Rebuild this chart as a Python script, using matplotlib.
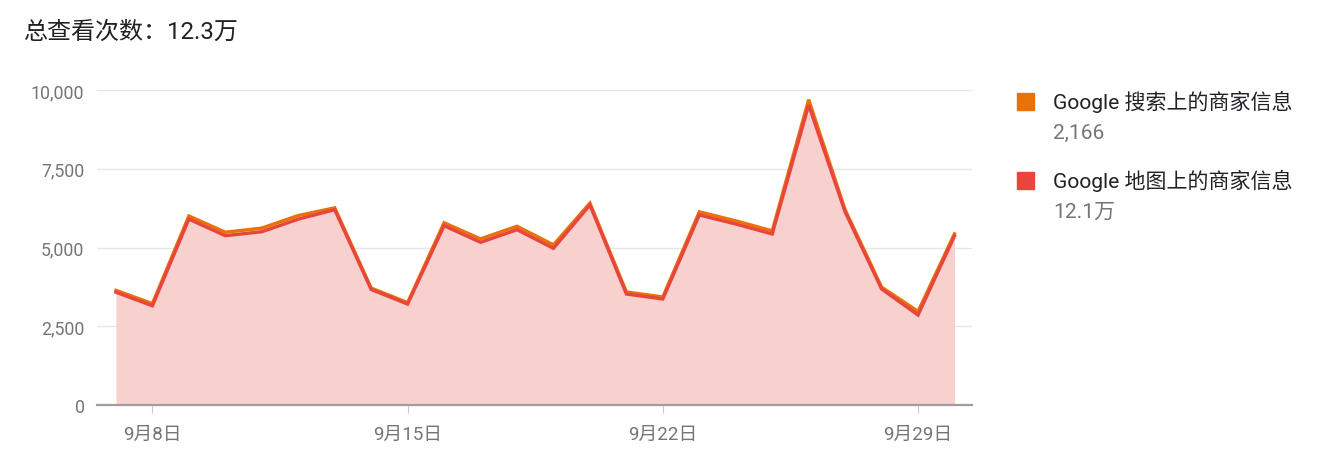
import matplotlib
matplotlib.use("Agg")
from matplotlib import pyplot as plt
import numpy as np

plt.rcParams['font.family'] = ['Roboto', 'Noto Sans CJK SC', 'DejaVu Sans']

# daily views, 9/7 - 9/30
days = list(range(7, 31))
maps_views = [3580, 3150, 5900, 5375, 5500, 5900, 6200, 3667, 3206, 5690, 5165, 5565,
              4974, 6349, 3524, 3365, 6032, 5746, 5429, 9524, 6127, 3683, 2857, 5365]
search_views = [60, 70, 100, 110, 115, 115, 60, 45, 45, 95, 110, 110,
                110, 60, 65, 65, 100, 100, 100, 170, 70, 60, 115, 70]
tick_days = [8, 15, 22, 29]
tick_labels = ["9月8日", "9月15日", "9月22日", "9月29日"]
y_ticks = [0, 2500, 5000, 7500, 10000]

title = "总查看次数：12.3万"
series_names = ["Google 搜索上的商家信息", "Google 地图上的商家信息"]
series_totals = ["2,166", "12.1万"]

orange = "#E8710A"
red = "#E8453C"
pink = "#F8D0CE"

W, H = 1331, 456
fig = plt.figure(figsize=(W / 100, H / 100), dpi=100)
ax = fig.add_axes([97 / W, (H - 406) / H, 875 / W, 315 / H])

x = np.array(days)
maps = np.array(maps_views)
total = maps + np.array(search_views)

ax.fill_between(x, 0, maps, color=pink, lw=0)
ax.fill_between(x, maps, total, color="#FBDCC4", lw=0)
ax.plot(x, total, color=orange, lw=2.4, solid_joinstyle="miter")
ax.plot(x, maps, color=red, lw=2.4, solid_joinstyle="miter")

ax.set_xlim(days[0] - 0.52, days[-1] + 0.48)
ax.set_ylim(0, 10000)
ax.set_yticks(y_ticks)
ax.set_yticklabels([f"{v:,}" for v in y_ticks])
ax.set_xticks(tick_days)
ax.set_xticklabels(tick_labels)

ax.grid(axis="y", color="#E6E6E6", lw=1)
ax.set_axisbelow(True)
for s in ["top", "right", "left"]:
    ax.spines[s].set_visible(False)
ax.spines["bottom"].set_color("#9E9E9E")
ax.spines["bottom"].set_linewidth(1.6)
ax.spines["bottom"].set_zorder(5)
ax.tick_params(axis="y", length=0, pad=9, labelsize=12.8, labelcolor="#757575")
ax.tick_params(axis="x", length=6, color="#CCCCCC", pad=8, labelsize=13.5, labelcolor="#757575")

fig.text(24 / W, 1 - 32 / H, title, fontsize=17.3, color="#202124", va="center", ha="left")

# legend on the right
leg_y = [102, 181]
colors = [orange, red]
for i in range(2):
    yy = 1 - leg_y[i] / H
    fig.patches.append(plt.Rectangle((1017 / W, yy - 8.5 / H), 17 / W, 17 / H,
                                     transform=fig.transFigure, color=colors[i], figure=fig))
    fig.text(1053 / W, yy, series_names[i], fontsize=15.1, color="#202124", va="center", ha="left")
    fig.text(1053 / W, yy - 31 / H, series_totals[i], fontsize=15.1, color="#757575",
             va="center", ha="left")

fig.savefig("out.png", dpi=100)
